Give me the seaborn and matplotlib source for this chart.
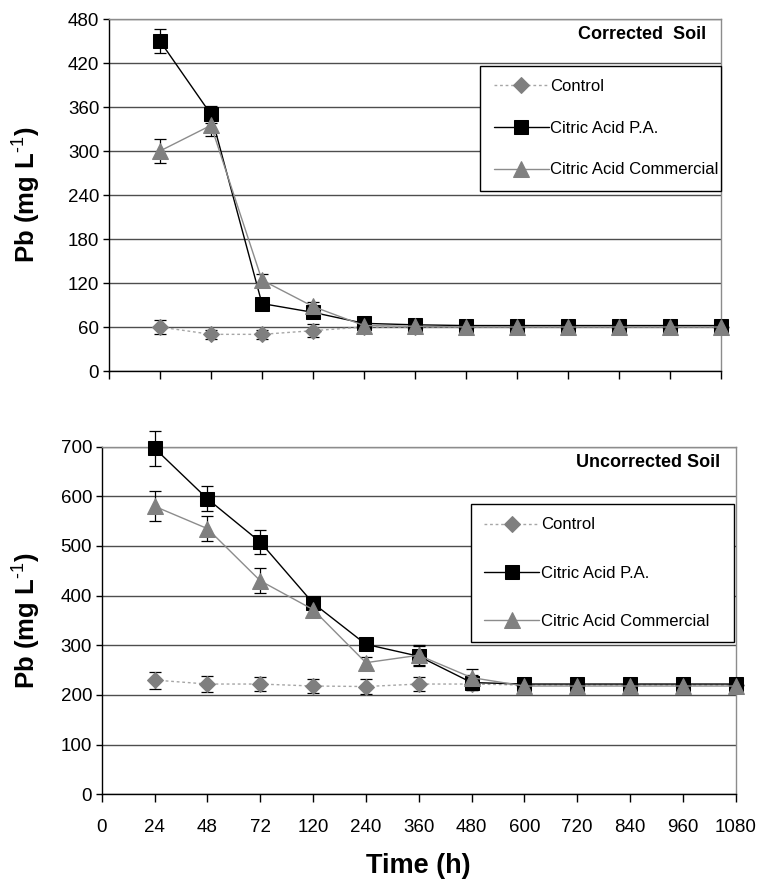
import matplotlib
matplotlib.use("Agg")
import matplotlib.pyplot as plt
import seaborn as sns

# time points (categorical, evenly spaced on the axis)
time_labels = ["0", "24", "48", "72", "120", "240", "360", "480", "600", "720", "840", "960", "1080"]
sample_times = time_labels[1:]

# Corrected soil
cor_control = [60, 50, 50, 55, 60, 60, 60, 60, 60, 60, 60, 60]
cor_control_err = [10, 6, 6, 9, 6, 5, 5, 5, 5, 5, 5, 5]
cor_pa = [450, 350, 92, 80, 65, 63, 62, 62, 62, 62, 62, 62]
cor_pa_err = [17, 12, 5, 5, 5, 4, 4, 4, 4, 4, 4, 4]
cor_com = [300, 335, 124, 88, 62, 61, 60, 60, 60, 60, 60, 60]
cor_com_err = [16, 14, 8, 6, 5, 4, 4, 4, 4, 4, 4, 4]

# Uncorrected soil
unc_control = [230, 222, 222, 218, 217, 222, 222, 220, 220, 220, 220, 220]
unc_control_err = [17, 16, 15, 15, 15, 15, 12, 10, 10, 10, 10, 10]
unc_pa = [697, 595, 508, 385, 302, 278, 225, 222, 222, 222, 222, 222]
unc_pa_err = [35, 25, 25, 10, 10, 20, 15, 10, 10, 10, 10, 10]
unc_com = [580, 535, 430, 372, 265, 280, 235, 218, 218, 218, 218, 218]
unc_com_err = [30, 25, 25, 10, 12, 20, 18, 10, 10, 10, 10, 10]

sns.set_theme(style="white")
plt.rcParams["font.family"] = ["Liberation Sans", "DejaVu Sans"]
plt.rcParams["mathtext.fontset"] = "custom"
plt.rcParams["mathtext.rm"] = "Liberation Sans"
plt.rcParams["mathtext.bf"] = "Liberation Sans:bold"
plt.rcParams["mathtext.default"] = "bf"
for key in ["text.color", "axes.labelcolor", "xtick.labelcolor", "ytick.labelcolor"]:
    plt.rcParams[key] = "black"

fig = plt.figure(figsize=(7.62, 8.84), dpi=100)
ax_top = fig.add_axes([0.1430, 0.5803, 0.8031, 0.3982])
ax_bot = fig.add_axes([0.1335, 0.1015, 0.8320, 0.3932])

pos = list(range(1, len(sample_times) + 1))

series_style = [
    dict(label="Control", color="#7f7f7f", lc="#a6a6a6", marker="D", ms=8, ls=(0, (2, 2)), lw=1.0),
    dict(label="Citric Acid P.A.", color="black", lc="black", marker="s", ms=10, ls="-", lw=1.0),
    dict(label="Citric Acid Commercial", color="#808080", lc="#8c8c8c", marker="^", ms=11, ls="-", lw=1.0),
]


def draw_panel(ax, values, errors, ymax, ystep, title, leg_box, leg_spacing):
    for vals, errs, st in zip(values, errors, series_style):
        ax.errorbar(pos, vals, yerr=errs, fmt="none", ecolor="black",
                    elinewidth=0.9, capsize=4, capthick=0.9, zorder=2, clip_on=False)
        sns.lineplot(x=pos, y=vals, ax=ax, color=st["lc"], linestyle=st["ls"],
                     linewidth=st["lw"], marker=st["marker"], markersize=st["ms"],
                     markerfacecolor=st["color"], markeredgecolor=st["color"],
                     label=st["label"], zorder=3, clip_on=False)
    ax.set_xlim(0, len(sample_times))
    ax.set_ylim(0, ymax)
    ax.set_yticks(range(0, ymax + 1, ystep))
    ax.set_xticks(range(len(time_labels)))
    ax.grid(axis="y", color="#4d4d4d", linewidth=1.0)
    ax.set_axisbelow(True)
    for side in ["left", "bottom"]:
        ax.spines[side].set_color("black")
        ax.spines[side].set_linewidth(1.0)
    for side in ["right", "top"]:
        ax.spines[side].set_color("#8c8c8c")
        ax.spines[side].set_linewidth(1.0)
    ax.tick_params(axis="both", which="both", direction="out", bottom=True, left=True,
                   width=1, color="black", labelsize=13.5, labelcolor="black")
    ax.tick_params(axis="y", length=4, pad=3)
    ax.tick_params(axis="x", length=6, pad=12)
    ax.set_ylabel("Pb (mg L$^{\\text{-1}}$)", fontsize=18.5, fontweight="bold", color="black")
    ax.text(0.975, 0.955, title, transform=ax.transAxes, ha="right", va="center",
            fontsize=13, fontweight="bold", color="black")
    leg = ax.legend(loc="center", bbox_to_anchor=leg_box, mode="expand", borderaxespad=0,
                    frameon=True, fancybox=False, framealpha=1, edgecolor="black",
                    fontsize=12, handlelength=3.3, labelspacing=leg_spacing,
                    borderpad=0.8, handletextpad=0.1, labelcolor="black")
    leg.get_frame().set_linewidth(1.0)


draw_panel(ax_top, [cor_control, cor_pa, cor_com],
           [cor_control_err, cor_pa_err, cor_com_err],
           480, 60, "Corrected  Soil", (0.607, 0.502, 0.393, 0.375), 1.6)
ax_top.set_xticklabels([])
ax_top.set_xlabel("")
ax_top.yaxis.set_label_coords(-0.108, 0.5)

draw_panel(ax_bot, [unc_control, unc_pa, unc_com],
           [unc_control_err, unc_pa_err, unc_com_err],
           700, 100, "Uncorrected Soil", (0.582, 0.42, 0.415, 0.432), 2.0)
ax_bot.set_xticklabels(time_labels)
ax_bot.set_xlabel("Time (h)", fontsize=19.5, fontweight="bold", labelpad=12, color="black")
ax_bot.yaxis.set_label_coords(-0.093, 0.5)

fig.savefig("out.png", dpi=100)
